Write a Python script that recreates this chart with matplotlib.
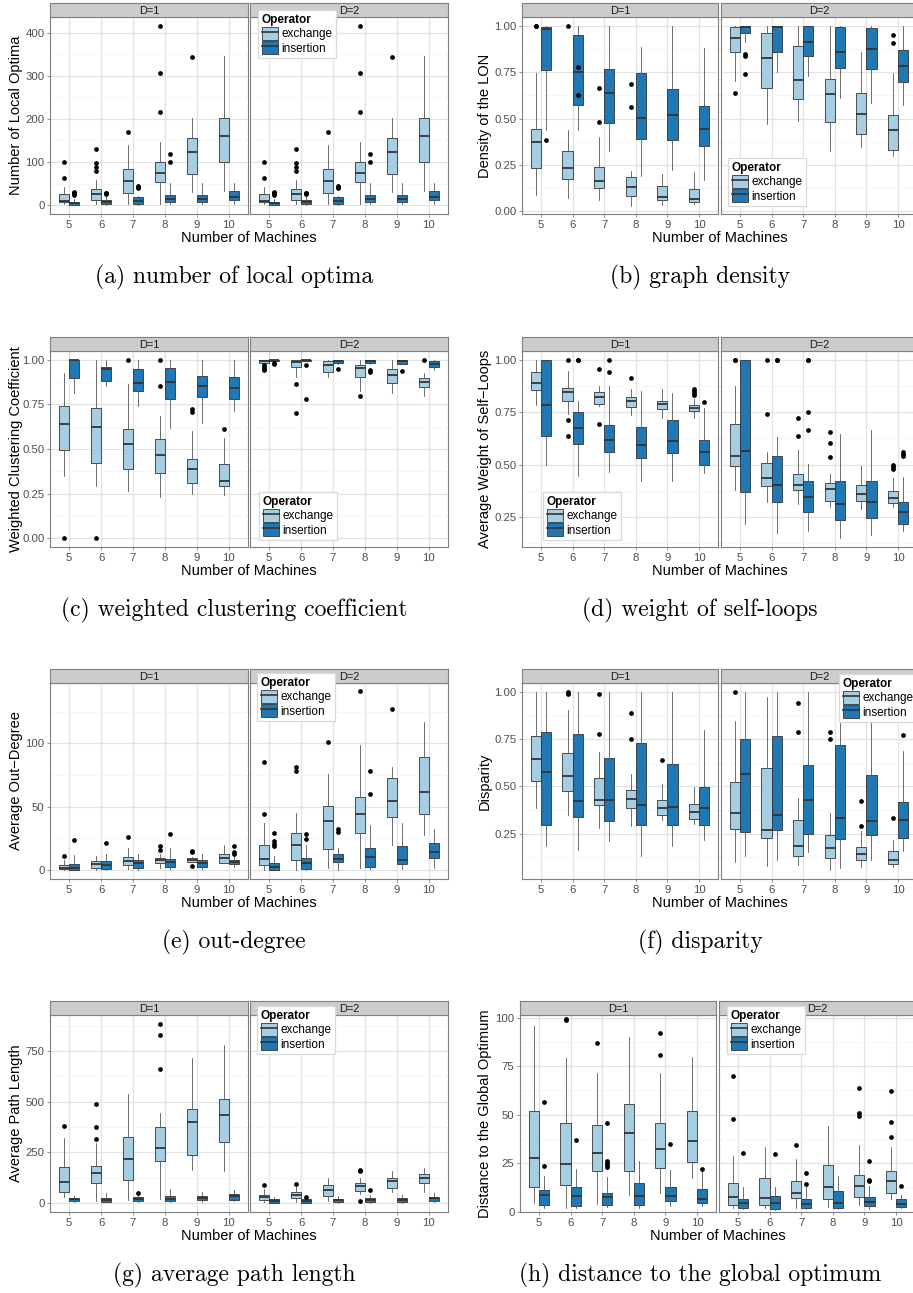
import numpy as np
import matplotlib
matplotlib.use('Agg')
import matplotlib.pyplot as plt
from matplotlib.patches import Patch
from matplotlib.lines import Line2D
from matplotlib.legend_handler import HandlerTuple
from matplotlib.ticker import MultipleLocator, FixedLocator, FormatStrFormatter

plt.rcParams['font.family'] = ['Liberation Sans', 'DejaVu Sans']

W, H = 913, 1293

machines = ['5', '6', '7', '8', '9', '10']
facets = ['D=1', 'D=2']
operators = ['exchange', 'insertion']
op_colors = ['#a6cee3', '#1f78b4']

# box rows: [lower whisker, q1, median, q3, upper whisker] for 5..10 machines
a_ex_d1 = [[2, 7, 10, 25, 43], [2, 12, 25, 38, 58], [3, 29, 55, 83, 139],
           [3, 54, 75, 99, 146], [31, 72, 124, 156, 203], [32, 101, 160, 203, 346]]
a_ex_d1_out = [[62, 100], [80, 89, 97, 130], [170], [216, 306, 415], [343], []]
a_in_d1 = [[0, 1, 4, 8, 15], [0, 2, 6, 11, 18], [1, 3, 10, 18, 20],
           [2, 6, 14, 24, 51], [2, 6, 14, 24, 51], [3, 12, 18, 32, 52]]
a_in_d1_out = [[24, 27, 29, 31], [25, 27, 29], [40, 43, 45], [99, 119], [], []]
# the two facets of (a) are the same in the source
a_ex_d2, a_ex_d2_out = a_ex_d1, a_ex_d1_out
a_in_d2, a_in_d2_out = a_in_d1, a_in_d1_out

b_ex_d1 = [[0.085, 0.232, 0.371, 0.444, 0.746], [0.072, 0.172, 0.232, 0.322, 0.438],
           [0.058, 0.123, 0.163, 0.239, 0.402], [0.027, 0.082, 0.127, 0.181, 0.217],
           [0.033, 0.058, 0.076, 0.134, 0.200], [0.036, 0.049, 0.063, 0.116, 0.208]]
b_ex_d1_out = [[1.0, 1.0], [1.0], [0.48, 0.665], [0.56, 0.688], [], []]
b_in_d1 = [[0.438, 0.761, 0.987, 0.996, 1.0], [0.438, 0.574, 0.752, 0.951, 1.0],
           [0.322, 0.476, 0.640, 0.770, 1.0], [0.190, 0.389, 0.504, 0.748, 0.888],
           [0.221, 0.382, 0.520, 0.658, 1.0], [0.167, 0.350, 0.442, 0.567, 0.884]]
b_in_d1_out = [[0.386], [0.627, 0.779], [], [], [], []]
b_ex_d2 = [[0.703, 0.859, 0.937, 0.996, 1.0], [0.471, 0.665, 0.830, 0.964, 1.0],
           [0.486, 0.605, 0.707, 0.895, 1.0], [0.326, 0.480, 0.632, 0.712, 1.0],
           [0.344, 0.417, 0.522, 0.638, 0.860], [0.295, 0.330, 0.440, 0.518, 0.746]]
b_ex_d2_out = [[0.638], [], [], [], [], [0.909, 0.955]]
b_in_d2 = [[0.915, 0.964, 0.996, 1.0, 1.0], [0.752, 0.860, 0.996, 1.0, 1.0],
           [0.728, 0.840, 0.915, 1.0, 1.0], [0.612, 0.775, 0.860, 0.996, 1.0],
           [0.583, 0.770, 0.879, 0.993, 1.0], [0.571, 0.696, 0.784, 0.873, 1.0]]
b_in_d2_out = [[0.74, 0.84, 0.85], [], [], [], [], []]

c_ex_d1 = [[0.347, 0.496, 0.638, 0.741, 0.929], [0.291, 0.420, 0.621, 0.729, 1.0],
           [0.263, 0.390, 0.528, 0.612, 0.864], [0.233, 0.364, 0.468, 0.556, 0.687],
           [0.248, 0.310, 0.386, 0.444, 0.599], [0.243, 0.293, 0.319, 0.416, 0.562]]
c_ex_d1_out = [[0.0], [0.0], [1.0], [0.853, 1.0], [0.71, 0.725], [0.614]]
c_in_d1 = [[0.812, 0.901, 1.0, 1.0, 1.0], [0.854, 0.879, 0.951, 0.963, 1.0],
           [0.744, 0.825, 0.873, 0.951, 1.0], [0.618, 0.780, 0.877, 0.957, 1.0],
           [0.646, 0.793, 0.851, 0.909, 1.0], [0.711, 0.780, 0.840, 0.905, 1.0]]
c_in_d1_out = [[], [], [], [], [], []]
c_ex_d2 = [[0.985, 0.985, 0.996, 1.0, 1.0], [0.905, 0.961, 0.987, 1.0, 1.0],
           [0.905, 0.933, 0.970, 0.993, 1.0], [0.826, 0.905, 0.953, 0.972, 1.0],
           [0.817, 0.869, 0.914, 0.948, 1.0], [0.795, 0.847, 0.877, 0.901, 0.929]]
c_ex_d2_out = [[0.945, 0.95, 0.96, 0.97], [0.703, 0.865], [], [0.799], [], [1.0]]
c_in_d2 = [[0.99, 0.994, 1.0, 1.0, 1.0], [0.994, 0.994, 1.0, 1.0, 1.0],
           [0.976, 0.981, 0.994, 1.0, 1.0], [0.976, 0.980, 0.994, 1.0, 1.0],
           [0.976, 0.978, 0.994, 1.0, 1.0], [0.942, 0.961, 0.979, 0.994, 1.0]]
c_in_d2_out = [[0.975, 0.98], [0.78, 0.973], [0.951], [0.93, 0.945], [0.94], []]

d_ex_d1 = [[0.784, 0.856, 0.887, 0.940, 1.0], [0.742, 0.805, 0.848, 0.865, 0.948],
           [0.780, 0.789, 0.821, 0.848, 0.876], [0.734, 0.773, 0.802, 0.821, 0.860],
           [0.722, 0.765, 0.787, 0.805, 0.860], [0.722, 0.757, 0.770, 0.783, 0.811]]
d_ex_d1_out = [[], [0.634, 0.711, 1.0], [0.691, 0.957], [0.91], [], [0.83, 0.84, 0.85, 0.86]]
d_in_d1 = [[0.500, 0.634, 0.784, 1.0, 1.0], [0.443, 0.599, 0.675, 0.748, 0.805],
           [0.464, 0.559, 0.615, 0.686, 0.872], [0.423, 0.531, 0.591, 0.678, 0.849],
           [0.420, 0.554, 0.612, 0.710, 0.840], [0.459, 0.500, 0.562, 0.618, 0.770]]
d_in_d1_out = [[], [1.0, 1.0], [0.943, 1.0], [], [], [0.797]]
d_ex_d2 = [[0.380, 0.494, 0.543, 0.691, 0.873], [0.321, 0.397, 0.437, 0.507, 0.559],
           [0.313, 0.377, 0.401, 0.456, 0.567], [0.298, 0.326, 0.382, 0.412, 0.453],
           [0.286, 0.326, 0.358, 0.404, 0.493], [0.298, 0.317, 0.340, 0.374, 0.437]]
d_ex_d2_out = [[1.0, 1.0], [0.743, 1.0], [0.638, 0.724], [0.537, 0.603, 0.657], [], [0.48, 0.49, 0.50]]
d_in_d2 = [[0.218, 0.367, 0.564, 1.0, 1.0], [0.174, 0.321, 0.404, 0.542, 0.631],
           [0.182, 0.272, 0.345, 0.421, 0.504], [0.152, 0.234, 0.313, 0.421, 0.646],
           [0.163, 0.247, 0.321, 0.421, 0.665], [0.182, 0.215, 0.272, 0.320, 0.440]]
d_in_d2_out = [[], [1.0, 1.0], [0.666, 0.752, 1.0, 1.0], [], [], [0.54, 0.55, 0.56]]

e_ex_d1 = [[0, 0.5, 2, 3.7, 7.6], [0, 1.6, 4.5, 7.3, 11], [0.5, 3.7, 7, 10, 17],
           [1.3, 5.2, 7.6, 9.2, 12.6], [6, 6.5, 7.9, 9.2, 10.5], [5.2, 5.8, 9.2, 13, 19.6]]
e_ex_d1_out = [[11], [], [26], [16, 19], [3, 14, 15], []]
e_in_d1 = [[0, 0, 2, 4.7, 11.8], [0, 0.5, 4.2, 6.8, 13], [0, 1.8, 5.2, 7.9, 13],
           [1, 2.1, 6.5, 8.6, 17.5], [1, 2.6, 5.2, 7.9, 13], [2.6, 4.7, 6.5, 7.9, 10.5]]
e_in_d1_out = [[24], [21], [], [28.5], [], [13, 14, 19]]
e_ex_d2 = [[0, 3.7, 8.4, 19.6, 37.4], [0, 8.1, 20, 29.3, 45], [1.8, 16.5, 38.7, 50.3, 76],
           [1.8, 29.3, 44.5, 58, 99], [19.6, 41.9, 54.7, 72.8, 81], [27.5, 44.5, 61.5, 89, 116.5]]
e_ex_d2_out = [[44, 85], [78, 81], [101], [141], [127], []]
e_in_d2 = [[0, 0, 2.6, 5.8, 11], [0, 1, 5.2, 9.2, 19.6], [0, 6.5, 8.4, 13, 17],
           [1, 2.6, 10.5, 17, 35.3], [1, 4.7, 7.9, 19.1, 37.2], [1.8, 9.2, 14.1, 21.7, 32.2]]
e_in_d2_out = [[19, 20.5, 23, 29.5], [24.5, 28.5], [30, 32], [60, 78.5], [], []]

f_ex_d1 = [[0.386, 0.527, 0.645, 0.765, 1.0], [0.351, 0.474, 0.557, 0.677, 0.903],
           [0.280, 0.400, 0.430, 0.545, 0.681], [0.289, 0.386, 0.433, 0.479, 0.566],
           [0.321, 0.347, 0.388, 0.426, 0.515], [0.303, 0.329, 0.365, 0.409, 0.497]]
f_ex_d1_out = [[], [0.99, 1.0], [0.78, 0.99], [0.75, 0.89], [0.64], []]
f_in_d1 = [[0.183, 0.294, 0.576, 0.786, 1.0], [0.165, 0.338, 0.421, 0.778, 1.0],
           [0.213, 0.315, 0.428, 0.651, 1.0], [0.130, 0.294, 0.404, 0.728, 1.0],
           [0.183, 0.294, 0.389, 0.621, 1.0], [0.218, 0.294, 0.386, 0.497, 0.800]]
f_in_d1_out = [[], [], [], [], [], []]
f_ex_d2 = [[0.098, 0.275, 0.359, 0.522, 0.845], [0.077, 0.227, 0.268, 0.598, 0.973],
           [0.082, 0.130, 0.186, 0.321, 0.439], [0.059, 0.121, 0.174, 0.241, 0.359],
           [0.074, 0.112, 0.142, 0.178, 0.266], [0.072, 0.089, 0.111, 0.156, 0.218]]
f_ex_d2_out = [[1.0], [], [0.79, 0.94], [0.75, 0.79], [0.29, 0.423], [0.332]]
f_in_d2 = [[0.134, 0.259, 0.564, 0.751, 1.0], [0.109, 0.271, 0.351, 0.769, 1.0],
           [0.151, 0.250, 0.430, 0.613, 1.0], [0.068, 0.224, 0.333, 0.718, 1.0],
           [0.112, 0.245, 0.315, 0.562, 0.87], [0.156, 0.227, 0.324, 0.416, 0.689]]
f_in_d2_out = [[], [], [], [], [], [0.774]]

g_ex_d1 = [[30, 57, 103, 180, 323], [11, 98, 146, 185, 295], [16, 112, 218, 328, 537],
           [20, 210, 271, 377, 443], [164, 236, 399, 463, 717], [156, 302, 433, 512, 780]]
g_ex_d1_out = [[382], [318, 377, 490], [], [664, 830, 885], [], []]
g_in_d1 = [[5, 10, 20, 25, 36], [3, 5, 16, 25, 49], [5, 11, 21, 30, 38],
           [5, 8, 20, 36, 69], [5, 13, 25, 36, 57], [8, 16, 33, 44, 66]]
g_in_d1_out = [[], [], [52], [], [], []]
g_ex_d2 = [[5, 13, 30, 41, 69], [5, 23, 41, 54, 77], [8, 36, 66, 87, 123],
           [44, 61, 85, 98, 126], [53, 75, 108, 125, 158], [53, 98, 123, 143, 172]]
g_ex_d2_out = [[87], [95], [], [10, 158, 165], [], []]
g_in_d2 = [[0, 2, 8, 18, 30], [0, 2, 8, 18, 30], [2, 5, 13, 20, 33],
           [2, 5, 16, 26, 41], [2, 5, 16, 26, 41], [5, 11, 23, 30, 49]]
g_in_d2_out = [[], [31], [], [64], [], []]

h_ex_d1 = [[4.6, 12.8, 27.7, 51.7, 95.7], [2, 13.9, 24.3, 45.7, 79], [3.8, 21, 30.1, 44.7, 71.7],
           [8.6, 21.2, 40.8, 55.5, 90.2], [9.8, 22.4, 32.4, 45.5, 71.4], [17.5, 25.7, 36.3, 51.7, 79.6]]
h_ex_d1_out = [[], [99, 99.5], [87], [], [81, 92], []]
h_in_d1 = [[2, 3.4, 8.6, 11.3, 18.3], [2, 2.9, 7.9, 12.8, 22.1], [2.6, 3.6, 7.4, 9.8, 18],
           [2, 3.4, 8.2, 14.9, 25.9], [2.9, 5.7, 8.2, 12.8, 21.7], [2.9, 4.5, 6.7, 11.5, 20.7]]
h_in_d1_out = [[23.6, 56.5], [37], [23, 24, 25, 26, 45.6], [], [35], [22]]
h_ex_d2 = [[2, 3.6, 7.7, 14.9, 28.9], [2, 3.4, 7.2, 17.1, 33.4], [2, 7.2, 9.8, 15.9, 27.2],
           [2.6, 6.7, 12.7, 24.1, 44], [3.3, 7.5, 13, 19, 34.1], [6.7, 9.8, 15.9, 20.9, 33.2]]
h_ex_d2_out = [[48, 70], [], [34.6], [], [49.5, 51, 64], [38.4, 46.4, 62]]
h_in_d2 = [[1.2, 1.7, 4.3, 6.7, 12.8], [0.9, 1.4, 4.5, 7.9, 12.7], [1.2, 2, 4.1, 6.7, 12.5],
           [1.2, 2, 4.6, 10.6, 18.3], [1.2, 2.9, 4.8, 7.7, 13.2], [2, 2.4, 4.1, 6.7, 8.4]]
h_in_d2_out = [[30], [29.5], [14, 20], [], [15.6, 16.4, 26.3], [13]]

ylabels = ['Number of Local Optima', 'Density of the LON', 'Weighted Clustering Coefficient',
           'Average Weight of Self\u2212Loops', 'Average Out\u2212Degree', 'Disparity',
           'Average Path Length', 'Distance to the Global Optimum']
captions = ['(a) number of local optima', '(b) graph density',
            '(c) weighted clustering coefficient', '(d) weight of self-loops',
            '(e) out-degree', '(f) disparity', '(g) average path length',
            '(h) distance to the global optimum']

# layout in pixels
row_top = [17, 351, 683, 1015]
row_bot = [214, 547, 879, 1212]
cap_y = [277, 610, 942, 1275]
STRIP = 14

panels = [
    dict(data=(a_ex_d1, a_ex_d1_out, a_in_d1, a_in_d1_out, a_ex_d2, a_ex_d2_out, a_in_d2, a_in_d2_out),
         ylim=(-20.7, 436.5), ticks=[0, 100, 200, 300, 400], fmt='%d', minor=50,
         x0=50, fw=198, gap=2, row=0, leg=(258, 10)),
    dict(data=(b_ex_d1, b_ex_d1_out, b_in_d1, b_in_d1_out, b_ex_d2, b_ex_d2_out, b_in_d2, b_in_d2_out),
         ylim=(-0.017, 1.05), ticks=[0, 0.25, 0.5, 0.75, 1.0], fmt='%.2f', minor=0.125,
         x0=522, fw=196, gap=3, row=0, leg=(728, 158)),
    dict(data=(c_ex_d1, c_ex_d1_out, c_in_d1, c_in_d1_out, c_ex_d2, c_ex_d2_out, c_in_d2, c_in_d2_out),
         ylim=(-0.05, 1.05), ticks=[0, 0.25, 0.5, 0.75, 1.0], fmt='%.2f', minor=0.125,
         x0=50, fw=198, gap=2, row=1, leg=(259, 492)),
    dict(data=(d_ex_d1, d_ex_d1_out, d_in_d1, d_in_d1_out, d_ex_d2, d_ex_d2_out, d_in_d2, d_in_d2_out),
         ylim=(0.107, 1.041), ticks=[0.25, 0.5, 0.75, 1.0], fmt='%.2f', minor=0.125,
         x0=522, fw=196, gap=3, row=1, leg=(543, 492)),
    dict(data=(e_ex_d1, e_ex_d1_out, e_in_d1, e_in_d1_out, e_ex_d2, e_ex_d2_out, e_in_d2, e_in_d2_out),
         ylim=(-7.05, 147.5), ticks=[0, 50, 100], fmt='%d', minor=25,
         x0=50, fw=198, gap=2, row=2, leg=(257, 673)),
    dict(data=(f_ex_d1, f_ex_d1_out, f_in_d1, f_in_d1_out, f_ex_d2, f_ex_d2_out, f_in_d2, f_in_d2_out),
         ylim=(0.01, 1.048), ticks=[0.25, 0.5, 0.75, 1.0], fmt='%.2f', minor=0.125,
         x0=522, fw=196, gap=3, row=2, leg=(839, 674)),
    dict(data=(g_ex_d1, g_ex_d1_out, g_in_d1, g_in_d1_out, g_ex_d2, g_ex_d2_out, g_in_d2, g_in_d2_out),
         ylim=(-44, 928), ticks=[0, 250, 500, 750], fmt='%d', minor=125,
         x0=50, fw=198, gap=2, row=3, leg=(257, 1006)),
    dict(data=(h_ex_d1, h_ex_d1_out, h_in_d1, h_in_d1_out, h_ex_d2, h_ex_d2_out, h_in_d2, h_in_d2_out),
         ylim=(-0.2, 101.4), ticks=[0, 25, 50, 75, 100], fmt='%d', minor=12.5,
         x0=520, fw=196, gap=3, row=3, leg=(727, 1006)),
]

GRID_MAJ = '#e3e3e3'
GRID_MIN = '#f3f3f3'
BORDER = '#7f7f7f'
TXT = '#4d4d4d'


def px_rect(x0, y0, x1, y1):
    return [x0 / W, 1 - y1 / H, (x1 - x0) / W, (y1 - y0) / H]


def make_stats(rows, outs):
    return [dict(whislo=r[0], q1=r[1], med=r[2], q3=r[3], whishi=r[4], fliers=o)
            for r, o in zip(rows, outs)]


fig = plt.figure(figsize=(W / 100, H / 100), dpi=100)

for i, p in enumerate(panels):
    top, bot = row_top[p['row']], row_bot[p['row']]
    pos = np.arange(1, len(machines) + 1)
    for k, facet in enumerate(facets):
        left = p['x0'] + k * (p['fw'] + p['gap'])
        ax = fig.add_axes(px_rect(left, top, left + p['fw'], bot))
        for j, op in enumerate(operators):
            rows, outs = p['data'][4 * k + 2 * j], p['data'][4 * k + 2 * j + 1]
            ax.bxp(make_stats(rows, outs), positions=pos + (j - 0.5) * 0.32, widths=0.32,
                   patch_artist=True, showcaps=False, manage_ticks=False,
                   boxprops=dict(facecolor=op_colors[j], edgecolor='#333333', linewidth=0.6),
                   medianprops=dict(color='#333333', linewidth=1.3),
                   whiskerprops=dict(color='#555555', linewidth=0.6),
                   flierprops=dict(marker='o', markerfacecolor='black', markeredgecolor='black',
                                   markersize=2.4, linestyle='none'))
        ax.set_xlim(0.4, 6.6)
        ax.set_ylim(*p['ylim'])
        ax.set_xticks(pos)
        ax.set_xticklabels(machines)
        ax.yaxis.set_major_locator(FixedLocator(p['ticks']))
        ax.yaxis.set_major_formatter(FormatStrFormatter(p['fmt']))
        ax.yaxis.set_minor_locator(MultipleLocator(p['minor']))
        ax.set_axisbelow(True)
        ax.grid(which='major', color=GRID_MAJ, linewidth=0.9)
        ax.grid(which='minor', axis='y', color=GRID_MIN, linewidth=0.5)
        ax.tick_params(axis='both', which='major', length=2.5, width=0.6, color=BORDER,
                       labelsize=8.2, labelcolor=TXT, pad=1.5)
        ax.tick_params(axis='y', which='minor', length=0)
        if k == 1:
            ax.tick_params(axis='y', left=False, labelleft=False)
        for s in ax.spines.values():
            s.set_color(BORDER)
            s.set_linewidth(0.8)

        sax = fig.add_axes(px_rect(left, top - STRIP, left + p['fw'], top))
        sax.set_facecolor('#cccccc')
        sax.set_xticks([])
        sax.set_yticks([])
        for s in sax.spines.values():
            s.set_color(BORDER)
            s.set_linewidth(0.8)
        sax.text(0.5, 0.45, facet, transform=sax.transAxes, ha='center', va='center',
                 fontsize=7.9, color='#1a1a1a')

    right = p['x0'] + 2 * p['fw'] + p['gap']
    fig.text((p['x0'] + right) / 2 / W, 1 - (bot + 24) / H, 'Number of Machines',
             ha='center', va='center', fontsize=10.5)
    ylx = 16 if p['x0'] < 300 else 485
    fig.text(ylx / W, 1 - (top + bot) / 2 / H, ylabels[i], rotation=90,
             ha='center', va='center', fontsize=10.5)
    capx = 234 if p['x0'] < 300 else 700
    fig.text(capx / W, 1 - cap_y[p['row']] / H, captions[i], family='cmr10',
             ha='center', va='center', fontsize=17)

    handles = [(Patch(facecolor=c, edgecolor='#333333', linewidth=0.6),
                Line2D([], [], color='#333333', linewidth=1.2)) for c in op_colors]
    lg = fig.legend(handles, operators, loc='upper left',
                    bbox_to_anchor=(p['leg'][0] / W, 1 - p['leg'][1] / H),
                    bbox_transform=fig.transFigure, title='Operator',
                    handler_map={tuple: HandlerTuple(ndivide=1, pad=0)},
                    fontsize=8.5, title_fontproperties=dict(weight='bold', size=8.5),
                    alignment='left', fancybox=False, framealpha=1, edgecolor='#d9d9d9',
                    handlelength=1.4, handleheight=1.3, handletextpad=0.25,
                    labelspacing=0.1, borderpad=0.3, borderaxespad=0)
    lg.get_frame().set_linewidth(0.9)

fig.savefig('out.png', dpi=100)
